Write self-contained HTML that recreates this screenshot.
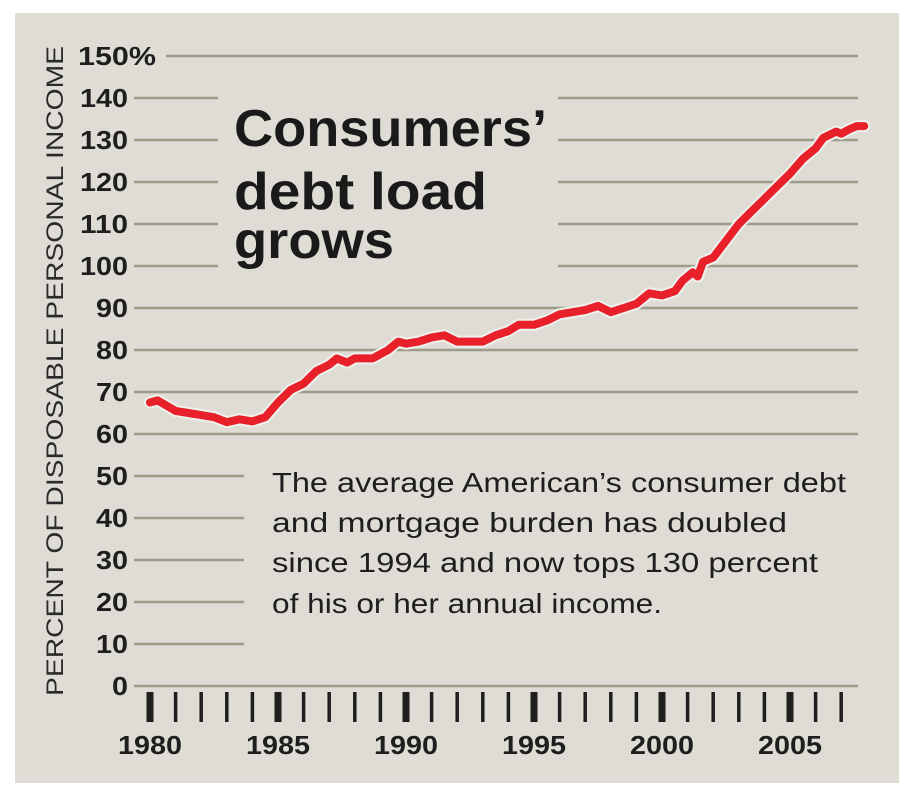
<!DOCTYPE html>
<html><head><meta charset="utf-8"><style>
html,body{margin:0;padding:0;background:#fff;}
svg{display:block;}
</style></head><body>
<svg id="s" width="915" height="800" xmlns="http://www.w3.org/2000/svg" font-family="Liberation Sans, sans-serif">
<rect x="15" y="13" width="884" height="770" fill="#dedcd5"/>
<g id="grid" stroke="#9c9c8a" stroke-width="2.5"></g>
<g id="ticks" fill="#1e1e1e"></g>
<g id="ylab" font-weight="bold" font-size="26" fill="#1e1e1e" text-anchor="end"></g>
<g id="xlab" font-weight="bold" font-size="26" fill="#1e1e1e" text-anchor="middle"></g>
<text transform="translate(63,371) rotate(-90)" text-anchor="middle" font-size="24" fill="#2a2a2a" textLength="650" lengthAdjust="spacingAndGlyphs">PERCENT OF DISPOSABLE PERSONAL INCOME</text>
<g font-weight="bold" font-size="52" fill="#1a1a1a">
<text x="234" y="146" textLength="313" lengthAdjust="spacingAndGlyphs">Consumers’</text>
<text x="234" y="209" textLength="253" lengthAdjust="spacingAndGlyphs">debt load</text>
<text x="234" y="258" textLength="160" lengthAdjust="spacingAndGlyphs">grows</text>
</g>
<g font-size="28" fill="#1e1e1e">
<text x="272" y="492" textLength="574" lengthAdjust="spacingAndGlyphs">The average American’s consumer debt</text>
<text x="272" y="532" textLength="515" lengthAdjust="spacingAndGlyphs">and mortgage burden has doubled</text>
<text x="272" y="572" textLength="546" lengthAdjust="spacingAndGlyphs">since 1994 and now tops 130 percent</text>
<text x="272" y="613" textLength="390" lengthAdjust="spacingAndGlyphs">of his or her annual income.</text>
</g>
<path id="halo" fill="none" stroke="#eef1ec" stroke-width="12" stroke-linejoin="round" stroke-linecap="round"/>
<path id="line" fill="none" stroke="#e8202a" stroke-width="8" stroke-linejoin="round" stroke-linecap="round"/>
</svg>
<script>
var NS="http://www.w3.org/2000/svg";
function Y(v){return 686-4.2*v;}
function X(y){return 150+25.6*(y-1980);}
var g=document.getElementById('grid'),yl=document.getElementById('ylab');
for(var v=0;v<=150;v+=10){
  var y=Y(v),segs;
  if(v==150)segs=[[166,858]];
  else if(v>=100)segs=[[134,218],[558,858]];
  else if(v>=60||v==0)segs=[[134,858]];
  else segs=[[134,244]];
  segs.forEach(function(s){var l=document.createElementNS(NS,'line');l.setAttribute('x1',s[0]);l.setAttribute('x2',s[1]);l.setAttribute('y1',y);l.setAttribute('y2',y);g.appendChild(l);});
  var t=document.createElementNS(NS,'text');t.setAttribute('x',v==150?156:128);t.setAttribute('y',y+9);t.textContent=v==150?'150%':v;
  var L=v==150?78:(v>=100?48:(v==0?16:32));
  t.setAttribute('textLength',L);t.setAttribute('lengthAdjust','spacingAndGlyphs');
  yl.appendChild(t);
}
var tk=document.getElementById('ticks'),xl=document.getElementById('xlab');
for(var yr=1980;yr<=2007;yr++){
  var r=document.createElementNS(NS,'rect');var maj=(yr%5==0);var w=maj?7:3.5;
  r.setAttribute('x',X(yr)-w/2);r.setAttribute('y',692);r.setAttribute('width',w);r.setAttribute('height',30);tk.appendChild(r);
  if(maj){var t=document.createElementNS(NS,'text');t.setAttribute('x',X(yr));t.setAttribute('y',754);t.setAttribute('textLength',64);t.setAttribute('lengthAdjust','spacingAndGlyphs');t.textContent=yr;xl.appendChild(t);}
}
var d=[[1980,67.5],[1980.3,68],[1981,65.5],[1981.5,65],[1982,64.5],[1982.5,64],[1983,62.8],[1983.5,63.5],[1984,63],[1984.5,64],[1985,67.5],[1985.5,70.5],[1986,72],[1986.5,75],[1987,76.5],[1987.3,78],[1987.7,77],[1988,78],[1988.7,78],[1989.3,80],[1989.7,82],[1990,81.5],[1990.5,82],[1991,83],[1991.5,83.5],[1992,82],[1993,82],[1993.5,83.5],[1994,84.5],[1994.4,86],[1995,86],[1995.5,87],[1996,88.5],[1996.5,89],[1997,89.5],[1997.5,90.5],[1998,89],[1998.5,90],[1999,91],[1999.5,93.5],[2000,93],[2000.5,94],[2000.8,96.5],[2001.2,98.5],[2001.4,97.5],[2001.6,101],[2002,102],[2002.5,106],[2003,110],[2003.5,113],[2004,116],[2004.5,119],[2005,122],[2005.5,125.5],[2006,128],[2006.3,130.5],[2006.8,132],[2007,131.5],[2007.3,132.5],[2007.6,133.3],[2007.9,133.3]];
var p=d.map(function(a,i){return (i?'L':'M')+X(a[0]).toFixed(1)+','+Y(a[1]).toFixed(1);}).join(' ');
document.getElementById('line').setAttribute('d',p);
document.getElementById('halo').setAttribute('d',p);
</script>
</body></html>
